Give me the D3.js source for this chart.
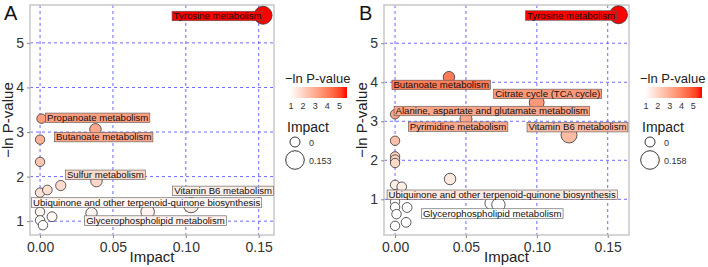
<!DOCTYPE html>
<html><head><meta charset="utf-8">
<script src="https://cdn.jsdelivr.net/npm/d3@7"></script>
<style>body{margin:0;background:#fff}svg{display:block}</style>
</head><body><svg id="c" width="708" height="267"></svg>
<script>
// ---------- data ----------
const pathwaysA = ["Tyrosine metabolism","Propanoate metabolism","Butanoate metabolism","","", "Sulfur metabolism","","","","Vitamin B6 metabolism","Ubiquinone and other terpenoid-quinone biosynthesis","Glycerophospholipid metabolism","","","",""];
const impactA = [0.153,0.001,0.038,0,0,0.0387,0,0.005,0.0142,0.1036,0.0353,0.0738,0,0,0.002,0.0082];
const lnpA    = [5.62,3.30,3.06,2.83,2.33,1.90,1.64,1.70,1.80,1.36,1.18,1.21,1.21,1.02,0.91,1.10];

const pathwaysB = ["Tyrosine metabolism","Butanoate metabolism","Citrate cycle (TCA cycle)","Alanine, aspartate and glutamate metabolism","Pyrimidine metabolism","Vitamin B6 metabolism","","","","","Ubiquinone and other terpenoid-quinone biosynthesis","","","Glycerophospholipid metabolism","","","","","","",""];
const impactB = [0.1576,0.038,0.0999,0,0.050,0.1227,0,0,0,0,0.0388,0,0.0047,0.0729,0.068,0,0,0.001,0.0085,0.0078,0];
const lnpB    = [5.73,4.13,3.48,3.18,3.06,2.65,2.50,2.10,2.02,1.93,1.52,1.37,1.32,0.86,0.90,0.94,0.80,0.62,0.79,0.41,0.32];

const xTicks = [0,0.05,0.10,0.15];
const yTicks = [1,2,3,4,5];
const legendTicks = [1,2,3,4,5];
const maxImpactA = 0.153, maxImpactB = 0.158;

// ---------- layout (pixels) ----------
const labelOffsetsA = {"Tyrosine metabolism":[-91,-4],"Propanoate metabolism":[4,-5.6],"Butanoate metabolism":[-41,3],"Sulfur metabolism":[-31,-11],"Vitamin B6 metabolism":[-18.4,-19],"Ubiquinone and other terpenoid-quinone biosynthesis":[-60,-15.4],"Glycerophospholipid metabolism":[-63,4]};
const labelOffsetsB = {"Tyrosine metabolism":[-93,-4],"Butanoate metabolism":[-57,3],"Citrate cycle (TCA cycle)":[-43,-13.4],"Alanine, aspartate and glutamate metabolism":[-1,-8],"Pyrimidine metabolism":[-57.6,3],"Vitamin B6 metabolism":[-42,-12.5],"Ubiquinone and other terpenoid-quinone biosynthesis":[-63,11],"Glycerophospholipid metabolism":[-77,4]};

const svg = d3.select("#c");
const FONT = "'Liberation Sans', Arial, sans-serif";

function panel(cfg){
  const g = svg.append("g");
  const x = d3.scaleLinear().domain(cfg.xDom).range([cfg.left, cfg.right]);
  const y = d3.scaleLinear().domain(cfg.yDom).range([cfg.bottom, cfg.top]);
  const col = d3.scaleLinear().domain(cfg.cDom).range(["#ffffff","#ff0000"]).interpolate(d3.interpolateLab).clamp(true);
  const r = d3.scaleLinear().domain([0, cfg.maxImpact]).range([4.7, 9]);

  // grid
  g.selectAll(".gx").data(xTicks).join("line")
    .attr("x1",d=>x(d)).attr("x2",d=>x(d)).attr("y1",cfg.top).attr("y2",cfg.bottom)
    .attr("stroke","#6b6bff").attr("stroke-width",1).attr("stroke-dasharray","3,3");
  g.selectAll(".gy").data(yTicks).join("line")
    .attr("y1",d=>y(d)).attr("y2",d=>y(d)).attr("x1",cfg.left).attr("x2",cfg.right)
    .attr("stroke","#6b6bff").attr("stroke-width",1).attr("stroke-dasharray","3,3");
  // border
  g.append("rect").attr("x",cfg.left).attr("y",cfg.top).attr("width",cfg.right-cfg.left).attr("height",cfg.bottom-cfg.top)
    .attr("fill","none").attr("stroke","#c8c8c8").attr("stroke-width",1.5);

  // axes
  const ax = g.append("g").attr("transform",`translate(0,${cfg.bottom})`)
    .call(d3.axisBottom(x).tickValues(xTicks).tickFormat(d3.format(".2f")).tickSize(3).tickPadding(4));
  const ay = g.append("g").attr("transform",`translate(${cfg.left},0)`)
    .call(d3.axisLeft(y).tickValues(yTicks).tickFormat(d3.format("d")).tickSize(3).tickPadding(3));
  [ax,ay].forEach(a=>{
    a.select(".domain").remove();
    a.selectAll("line").attr("stroke","#888");
    a.selectAll("text").attr("font-family",FONT).attr("font-size",14).attr("fill","#333");
  });
  g.append("text").attr("x",(cfg.left+cfg.right)/2).attr("y",262).attr("text-anchor","middle")
    .attr("font-family",FONT).attr("font-size",15).attr("fill","#222").text("Impact");
  g.append("text").attr("transform",`translate(${cfg.left-17},${(cfg.top+cfg.bottom)/2}) rotate(-90)`).attr("text-anchor","middle")
    .attr("font-family",FONT).attr("font-size",15).attr("fill","#222").text("−ln P-value");
  g.append("text").attr("x",cfg.letterX).attr("y",20).attr("font-family",FONT).attr("font-size",20).attr("fill","#111").text(cfg.letter);

  // points
  const data = cfg.names.map((n,i)=>({name:n, imp:cfg.impact[i], lnp:cfg.lnp[i]}));
  const order = data.slice().sort((a,b)=>a.imp-b.imp);
  g.selectAll(".pt").data(order).join("circle")
    .attr("cx",d=>x(d.imp)).attr("cy",d=>y(d.lnp)).attr("r",d=>r(d.imp))
    .attr("fill",d=>col(d.lnp)).attr("stroke","#333").attr("stroke-width",0.8);

  // labels
  const lab = data.filter(d=>d.name);
  lab.forEach(d=>{
    const off = cfg.offsets[d.name];
    const bx = x(d.imp)+off[0], by = y(d.lnp)+off[1];
    const lg = g.append("g");
    const rect = lg.append("rect").attr("x",bx).attr("y",by).attr("height",9.5)
      .attr("fill",col(d.lnp)).attr("stroke","#555").attr("stroke-width",0.6);
    const t = lg.append("text").attr("x",bx+1.5).attr("y",by+8).attr("font-family",FONT).attr("font-size",9.6)
      .attr("fill","#111").text(d.name);
    rect.attr("width",t.node().getComputedTextLength()+3);
  });

  // legend
  const lx = cfg.legendX;
  g.append("text").attr("x",lx-5).attr("y",83).attr("font-family",FONT).attr("font-size",13).attr("fill","#222").text("−ln P-value");
  const gid = "grad"+cfg.letter;
  const grad = svg.append("defs").append("linearGradient").attr("id",gid);
  d3.range(0,1.0001,0.1).forEach(t=>grad.append("stop").attr("offset",t).attr("stop-color",col(cfg.cDom[0]+t*(cfg.cDom[1]-cfg.cDom[0]))));
  const lscale = d3.scaleLinear().domain(cfg.cDom).range([lx, lx+57]);
  g.append("rect").attr("x",lx).attr("y",87).attr("width",57).attr("height",11).attr("fill",`url(#${gid})`);
  g.selectAll(".lt").data(legendTicks).join("text").attr("x",d=>lscale(d)).attr("y",109).attr("text-anchor","middle")
    .attr("font-family",FONT).attr("font-size",9).attr("fill","#333").text(d=>d);
  g.append("text").attr("x",lx-3).attr("y",132).attr("font-family",FONT).attr("font-size",14).attr("fill","#222").text("Impact");
  const sz = [0, cfg.maxImpact];
  const cy = [142, 160];
  sz.forEach((s,i)=>{
    g.append("circle").attr("cx",lx+5).attr("cy",cy[i]).attr("r",i?9.3:5).attr("fill","none").attr("stroke","#222").attr("stroke-width",0.9);
    g.append("text").attr("x",lx+19).attr("y",cy[i]+3.5).attr("font-family",FONT).attr("font-size",9).attr("fill","#333").text(s===0?"0":String(s));
  });
}

panel({letter:"A", letterX:4, names:pathwaysA, impact:impactA, lnp:lnpA, maxImpact:maxImpactA,
  xDom:[-0.0069,0.1605], yDom:[0.69,5.85], left:30, right:274, top:5, bottom:235, cDom:[0.92,5.62], offsets:labelOffsetsA, legendX:290});
panel({letter:"B", letterX:359, names:pathwaysB, impact:impactB, lnp:lnpB, maxImpact:maxImpactB,
  xDom:[-0.0078,0.165], yDom:[0.085,5.98], left:384, right:629, top:5, bottom:235, cDom:[0.92,5.73], offsets:labelOffsetsB, legendX:645});
</script></body></html>
